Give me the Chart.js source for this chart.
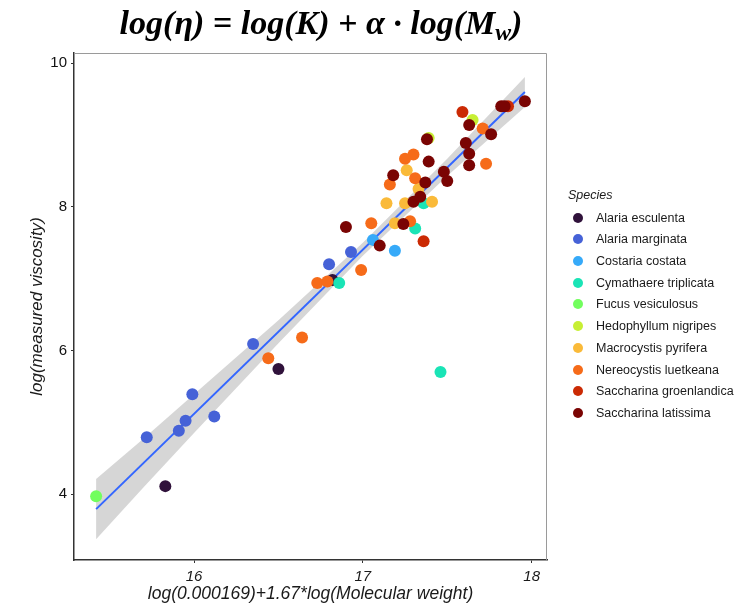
<!DOCTYPE html>
<html>
<head>
<meta charset="utf-8">
<script src="https://cdn.jsdelivr.net/npm/chart.js@4.4.1/dist/chart.umd.min.js"></script>
<style>
  body { margin: 0; background: #fff; }
  #wrap { position: relative; width: 753px; height: 606px; }
  #title {
    position: absolute; left: 0; top: 3px; width: 642px; text-align: center;
    font: italic bold 34px "Liberation Serif", "Times New Roman", serif;
    line-height: 40px; color: #000; white-space: nowrap;
  }
  #title sub { font-size: 0.7em; vertical-align: -0.25em; line-height: 0; }
  #legend {
    position: absolute; left: 568px; top: 186px;
    font: 12.5px "Liberation Sans", Arial, sans-serif; color: #1a1a1a;
  }
  #legend .head { font-style: italic; line-height: 18px; height: 18px; margin-bottom: 2.85px; }
  #legend .row { display: flex; align-items: center; height: 21.7px; }
  #legend .dot { width: 10px; height: 10px; border-radius: 50%; margin-left: 5px; margin-right: 13px; }
</style>
</head>
<body>
<div id="wrap">
  <canvas id="chart" width="753" height="606"></canvas>
  <div id="title">log(η) = log(K) + α · log(M<sub>w</sub>)</div>
  <div id="legend"></div>
</div>
<script>
// species and their colours (turbo palette)
const species = [
  "Alaria esculenta", "Alaria marginata", "Costaria costata", "Cymathaere triplicata",
  "Fucus vesiculosus", "Hedophyllum nigripes", "Macrocystis pyrifera",
  "Nereocystis luetkeana", "Saccharina groenlandica", "Saccharina latissima"
];
const speciesColors = [
  "#30123B", "#4662D7", "#36AAF9", "#1AE4B6", "#72FE5E",
  "#C7EF34", "#FABA39", "#F66B19", "#CB2A04", "#7A0403"
];

// [x, y] pairs
const alariaEsculenta = [[15.83, 4.11], [16.50, 5.74], [16.82, 6.98]];
const alariaMarginata = [[15.72, 4.79], [15.91, 4.88], [15.95, 5.02], [15.99, 5.39],
  [16.12, 5.08], [16.35, 6.09], [16.80, 7.20], [16.93, 7.37]];
const costariaCostata = [[17.06, 7.54], [17.19, 7.39]];
const cymathaereTriplicata = [[16.86, 6.94], [17.31, 7.70], [17.36, 8.05], [17.46, 5.70]];
const fucusVesiculosus = [[15.42, 3.97]];
const hedophyllumNigripes = [[17.39, 8.96], [17.65, 9.21]];
const macrocystisPyrifera = [[17.14, 8.05], [17.19, 7.77], [17.25, 8.05], [17.41, 8.07],
  [17.33, 8.25], [17.26, 8.51]];
const nereocystisLuetkeana = [[16.44, 5.89], [16.64, 6.18], [16.73, 6.94], [16.79, 6.96],
  [16.99, 7.12], [17.05, 7.77], [17.16, 8.31], [17.28, 7.80], [17.31, 8.40],
  [17.25, 8.67], [17.30, 8.73], [17.71, 9.09], [17.73, 8.60]];
const saccharinaGroenlandica = [[17.36, 7.52], [17.59, 9.32], [17.86, 9.40]];
const saccharinaLatissima = [[16.90, 7.72], [17.10, 7.46], [17.18, 8.44], [17.24, 7.76],
  [17.30, 8.07], [17.34, 8.14], [17.37, 8.34], [17.39, 8.63], [17.38, 8.94],
  [17.48, 8.49], [17.50, 8.36], [17.63, 9.14], [17.61, 8.89], [17.63, 8.74],
  [17.63, 8.58], [17.76, 9.01], [17.82, 9.40], [17.84, 9.40], [17.96, 9.47]];

const seriesPoints = [
  alariaEsculenta, alariaMarginata, costariaCostata, cymathaereTriplicata,
  fucusVesiculosus, hedophyllumNigripes, macrocystisPyrifera,
  nereocystisLuetkeana, saccharinaGroenlandica, saccharinaLatissima
];

// lm fit and its confidence band
const fitX = [15.42, 17.96];
const fitY = [3.79, 9.60];
const bandX = [15.42, 15.7, 16.0, 16.5, 17.0, 17.5, 17.96];
const bandUpper = [4.21, 4.77, 5.39, 6.42, 7.50, 8.67, 9.81];
const bandLower = [3.37, 4.09, 4.85, 6.10, 7.32, 8.43, 9.39];

const xTicks = [16, 17, 18];
const yTicks = [4, 6, 8, 10];

Chart.defaults.font.family = '"Liberation Sans", Arial, sans-serif';

// gray top/right panel border
const panelFrame = {
  id: "panelFrame",
  beforeDatasetsDraw(chart) {
    const {ctx, chartArea} = chart;
    ctx.save();
    ctx.strokeStyle = "#9a9a9a";
    ctx.lineWidth = 1;
    ctx.beginPath();
    ctx.moveTo(chartArea.left, chartArea.top + 0.5);
    ctx.lineTo(chartArea.right - 0.5, chartArea.top + 0.5);
    ctx.lineTo(chartArea.right - 0.5, chartArea.bottom);
    ctx.stroke();
    ctx.restore();
  }
};

const pointSets = species.map((name, i) => ({
  label: name,
  data: seriesPoints[i].map(([x, y]) => ({x, y})),
  backgroundColor: speciesColors[i],
  borderWidth: 0,
  pointRadius: 6,
  pointHoverRadius: 6,
  order: species.length - i
}));

const datasets = [
  ...pointSets,
  {
    label: "fit",
    data: fitX.map((x, i) => ({x, y: fitY[i]})),
    showLine: true,
    pointRadius: 0,
    borderColor: "#3366FF",
    borderWidth: 2,
    fill: false,
    order: 20
  },
  {
    label: "ci upper",
    data: bandX.map((x, i) => ({x, y: bandUpper[i]})),
    showLine: true,
    pointRadius: 0,
    borderColor: "transparent",
    borderWidth: 1,
    backgroundColor: "rgba(153,153,153,0.4)",
    fill: "+1",
    order: 30
  },
  {
    label: "ci lower",
    data: bandX.map((x, i) => ({x, y: bandLower[i]})),
    showLine: true,
    pointRadius: 0,
    borderColor: "transparent",
    borderWidth: 1,
    fill: false,
    order: 31
  }
];

new Chart(document.getElementById("chart"), {
  type: "scatter",
  data: {datasets},
  plugins: [panelFrame],
  options: {
    responsive: false,
    animation: false,
    layout: {padding: {top: 53, right: 206, bottom: 0, left: 0}},
    plugins: {
      legend: {display: false},
      tooltip: {enabled: false}
    },
    scales: {
      x: {
        type: "linear",
        min: 15.289,
        max: 18.091,
        afterBuildTicks: (scale) => { scale.ticks = xTicks.map((v) => ({value: v})); },
        afterFit: (scale) => { scale.height = 46; },
        ticks: {color: "#1a1a1a", font: {size: 15, style: "italic"}, padding: 5},
        grid: {drawOnChartArea: false, tickLength: 3, color: "#333"},
        border: {color: "#333", width: 1.5},
        title: {
          display: true,
          text: "log(0.000169)+1.67*log(Molecular weight)",
          color: "#1a1a1a",
          font: {size: 17.5, style: "italic"},
          padding: {top: 0, bottom: 1}
        }
      },
      y: {
        type: "linear",
        min: 3.081,
        max: 10.143,
        afterBuildTicks: (scale) => { scale.ticks = yTicks.map((v) => ({value: v})); },
        afterFit: (scale) => { scale.width = 74; },
        ticks: {color: "#111", font: {size: 15}, padding: 4},
        grid: {drawOnChartArea: false, tickLength: 3, color: "#333"},
        border: {color: "#333", width: 1.5},
        title: {
          display: true,
          text: "log(measured viscosity)",
          color: "#1a1a1a",
          font: {size: 17, style: "italic"},
          padding: {top: 27, bottom: 0}
        }
      }
    }
  }
});

// html legend
const legend = document.getElementById("legend");
legend.innerHTML = '<div class="head">Species</div>' + species.map((name, i) =>
  `<div class="row"><span class="dot" style="background:${speciesColors[i]}"></span>${name}</div>`
).join("");
</script>
</body>
</html>
